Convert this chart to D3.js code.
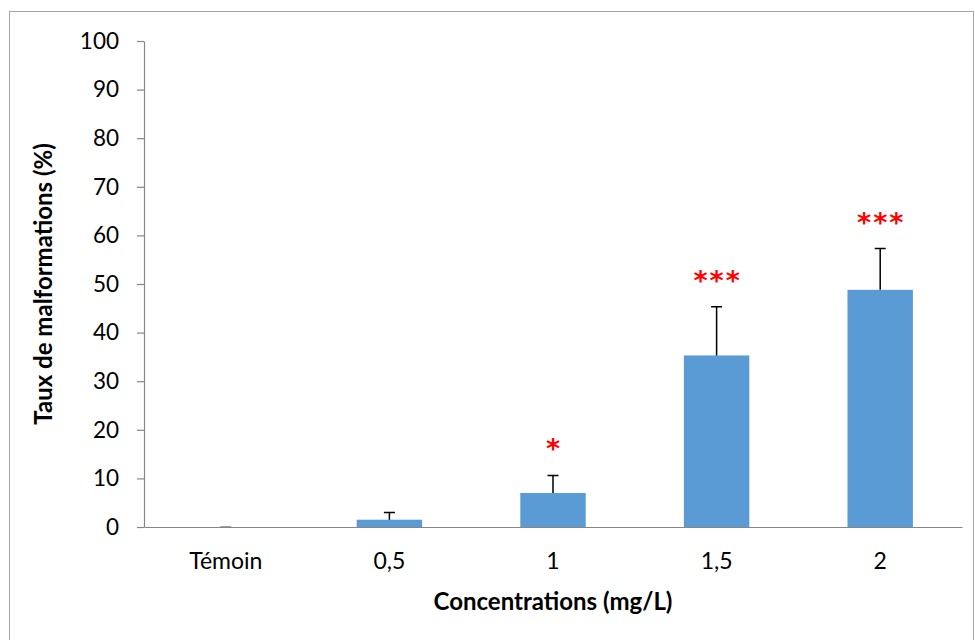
<!DOCTYPE html>
<html>
<head>
<meta charset="utf-8">
<script src="https://cdn.jsdelivr.net/npm/d3@7"></script>
<style>
  body { margin: 0; background: #fff; }
  svg { display: block; font-family: Lato, "Open Sans", sans-serif; }
</style>
</head>
<body>
<div id="chart"></div>
<script>
// data
var categories = ["Témoin", "0,5", "1", "1,5", "2"];
var rates = [0, 1.5, 7, 35.3, 48.8];
var errors = [0, 1.5, 3.6, 10, 8.5];
var stars = ["", "", "*", "***", "***"];
var yTicks = [0, 10, 20, 30, 40, 50, 60, 70, 80, 90, 100];

var data = categories.map(function(c, i) {
  return {cat: c, rate: rates[i], err: errors[i], star: stars[i]};
});

var W = 975, H = 640;
var margin = {top: 41, right: 13, bottom: 113, left: 144},
  width = W - margin.left - margin.right,
  height = H - margin.top - margin.bottom;

var root = d3.select("#chart")
  .append("svg")
  .attr("width", W)
  .attr("height", H);

// outer frame of the chart
root.append("rect")
  .attr("x", 9.5)
  .attr("y", 11.5)
  .attr("width", 964)
  .attr("height", 640)
  .attr("fill", "none")
  .attr("stroke", "#a6a6a6")
  .attr("stroke-width", 1);

var svg = root.append("g")
  .attr("transform", "translate(" + margin.left + "," + margin.top + ")");

var x = d3.scaleBand()
  .domain(categories)
  .range([0, width])
  .paddingInner(0.6)
  .paddingOuter(0.3);

var y = d3.scaleLinear()
  .domain([0, 100])
  .range([height, 0]);

// Y axis
var yAxis = svg.append("g")
  .call(d3.axisLeft(y).tickValues(yTicks).tickSize(7).tickSizeOuter(0).tickPadding(18));
yAxis.select(".domain").attr("stroke", "#868686").attr("stroke-width", 1.2);
yAxis.selectAll(".tick line").attr("stroke", "#868686").attr("stroke-width", 1.2);
yAxis.selectAll(".tick text")
  .style("font-size", "22.5px")
  .style("font-family", "Lato, sans-serif")
  .attr("fill", "#000");

// bars
svg.selectAll(".bar")
  .data(data)
  .join("rect")
  .attr("class", "bar")
  .attr("x", function(d) { return x(d.cat); })
  .attr("width", x.bandwidth())
  .attr("y", function(d) { return y(d.rate); })
  .attr("height", function(d) { return height - y(d.rate); })
  .attr("fill", "#5b9bd5");

// error bars (upper half only)
var cap = 11;
svg.selectAll(".err")
  .data(data)
  .join("path")
  .attr("class", "err")
  .attr("d", function(d) {
    var cx = x(d.cat) + x.bandwidth() / 2;
    return "M" + cx + "," + y(d.rate) + "V" + y(d.rate + d.err) +
      "M" + (cx - cap / 2) + "," + y(d.rate + d.err) + "H" + (cx + cap / 2);
  })
  .attr("stroke", function(d) { return d.err ? "#000" : "#7f7f7f"; })
  .attr("stroke-width", 1.5)
  .attr("fill", "none");

// X axis (drawn after bars so the line sits on top)
var xAxis = svg.append("g")
  .attr("transform", "translate(0," + height + ")")
  .call(d3.axisBottom(x).tickSize(0).tickSizeOuter(0));
xAxis.select(".domain").attr("stroke", "#868686").attr("stroke-width", 1.2);
xAxis.selectAll(".tick text")
  .attr("y", 42)
  .attr("dy", 0)
  .style("font-size", "23px")
  .style("font-family", "Lato, sans-serif")
  .attr("fill", "#000");

// significance stars
svg.selectAll(".star")
  .data(data.filter(function(d) { return d.star; }))
  .join("text")
  .attr("class", "star")
  .attr("x", function(d) { return x(d.cat) + x.bandwidth() / 2 + 1; })
  .attr("y", function(d) { return y(d.rate + d.err) - 17; })
  .attr("text-anchor", "middle")
  .attr("fill", "#ff0000")
  .style("font-family", "DejaVu Sans, sans-serif")
  .style("font-weight", "bold")
  .style("font-size", "27px")
  .style("letter-spacing", "2px")
  .text(function(d) { return d.star; });

// axis titles
svg.append("text")
  .attr("x", width / 2)
  .attr("y", height + 83)
  .attr("text-anchor", "middle")
  .style("font-size", "24px")
  .style("font-weight", "bold")
  .text("Concentrations (mg/L)");

svg.append("text")
  .attr("transform", "translate(" + (-92) + "," + (height / 2) + ") rotate(-90)")
  .attr("text-anchor", "middle")
  .style("font-size", "24px")
  .style("font-weight", "bold")
  .text("Taux de malformations (%)");
</script>
</body>
</html>
